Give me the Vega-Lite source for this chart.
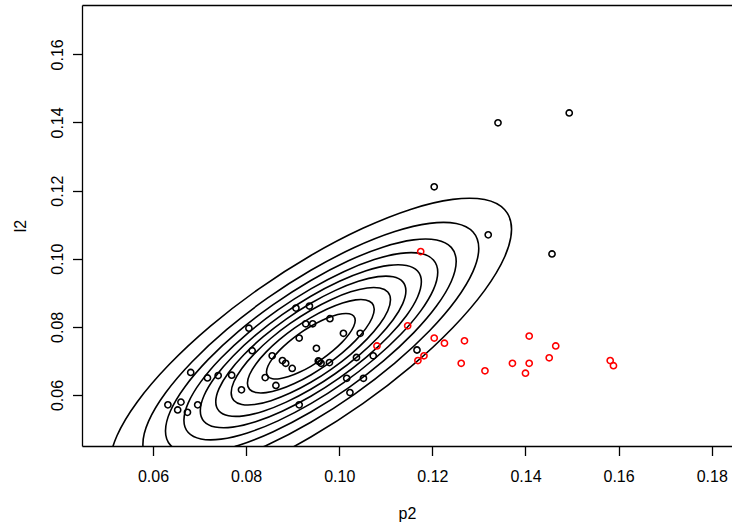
{
  "$schema": "https://vega.github.io/schema/vega-lite/v6.json",
  "width": 650,
  "height": 441,
  "autosize": {"type": "none"},
  "padding": {"left": 82, "top": 5, "right": 0, "bottom": 81},
  "background": "white",
  "config": {
    "view": {"stroke": null},
    "font": "Liberation Sans",
    "axis": {
      "grid": false,
      "domainColor": "#000000",
      "domainWidth": 1.3,
      "tickColor": "#000000",
      "tickWidth": 1.3,
      "tickSize": 9.5,
      "labelFont": "Liberation Sans",
      "labelFontSize": 16,
      "labelColor": "#000000",
      "labelFlush": false,
      "labelOverlap": false,
      "titleFont": "Liberation Sans",
      "titleFontSize": 16,
      "titleFontWeight": "normal",
      "titleColor": "#000000"
    }
  },
  "datasets": {
    "pts": [
      {"p2":0.1494,"l2":0.1428,"grp":"a"},{"p2":0.1341,"l2":0.1399,"grp":"a"},{"p2":0.1204,"l2":0.1211,"grp":"a"},
      {"p2":0.1320,"l2":0.1070,"grp":"a"},{"p2":0.1457,"l2":0.1014,"grp":"a"},{"p2":0.1167,"l2":0.0732,"grp":"a"},
      {"p2":0.0806,"l2":0.0796,"grp":"a"},{"p2":0.0907,"l2":0.0855,"grp":"a"},{"p2":0.0936,"l2":0.0861,"grp":"a"},
      {"p2":0.0980,"l2":0.0824,"grp":"a"},{"p2":0.0928,"l2":0.0809,"grp":"a"},{"p2":0.0943,"l2":0.0809,"grp":"a"},
      {"p2":0.1009,"l2":0.0781,"grp":"a"},{"p2":0.1045,"l2":0.0781,"grp":"a"},{"p2":0.0914,"l2":0.0767,"grp":"a"},
      {"p2":0.0813,"l2":0.0730,"grp":"a"},{"p2":0.0951,"l2":0.0737,"grp":"a"},{"p2":0.0856,"l2":0.0715,"grp":"a"},
      {"p2":0.0878,"l2":0.0701,"grp":"a"},{"p2":0.0885,"l2":0.0693,"grp":"a"},{"p2":0.0899,"l2":0.0678,"grp":"a"},
      {"p2":0.0957,"l2":0.0698,"grp":"a"},{"p2":0.0955,"l2":0.0700,"grp":"a"},{"p2":0.0961,"l2":0.0693,"grp":"a"},
      {"p2":0.0979,"l2":0.0695,"grp":"a"},{"p2":0.1037,"l2":0.0710,"grp":"a"},{"p2":0.1073,"l2":0.0715,"grp":"a"},
      {"p2":0.1016,"l2":0.0649,"grp":"a"},{"p2":0.1052,"l2":0.0649,"grp":"a"},{"p2":0.1023,"l2":0.0607,"grp":"a"},
      {"p2":0.0914,"l2":0.0571,"grp":"a"},{"p2":0.0841,"l2":0.0651,"grp":"a"},{"p2":0.0864,"l2":0.0628,"grp":"a"},
      {"p2":0.0790,"l2":0.0615,"grp":"a"},{"p2":0.0769,"l2":0.0658,"grp":"a"},{"p2":0.0740,"l2":0.0657,"grp":"a"},
      {"p2":0.0717,"l2":0.0650,"grp":"a"},{"p2":0.0681,"l2":0.0666,"grp":"a"},{"p2":0.0696,"l2":0.0571,"grp":"a"},
      {"p2":0.0632,"l2":0.0571,"grp":"a"},{"p2":0.0660,"l2":0.0579,"grp":"a"},{"p2":0.0653,"l2":0.0556,"grp":"a"},
      {"p2":0.0674,"l2":0.0549,"grp":"a"},
      {"p2":0.1175,"l2":0.1021,"grp":"b"},{"p2":0.1147,"l2":0.0803,"grp":"b"},{"p2":0.1081,"l2":0.0744,"grp":"b"},
      {"p2":0.1204,"l2":0.0767,"grp":"b"},{"p2":0.1226,"l2":0.0752,"grp":"b"},{"p2":0.1269,"l2":0.0759,"grp":"b"},
      {"p2":0.1408,"l2":0.0773,"grp":"b"},{"p2":0.1465,"l2":0.0744,"grp":"b"},{"p2":0.1451,"l2":0.0709,"grp":"b"},
      {"p2":0.1182,"l2":0.0715,"grp":"b"},{"p2":0.1169,"l2":0.0701,"grp":"b"},{"p2":0.1262,"l2":0.0693,"grp":"b"},
      {"p2":0.1313,"l2":0.0671,"grp":"b"},{"p2":0.1372,"l2":0.0693,"grp":"b"},{"p2":0.1408,"l2":0.0693,"grp":"b"},
      {"p2":0.1400,"l2":0.0664,"grp":"b"},{"p2":0.1582,"l2":0.0701,"grp":"b"},{"p2":0.1589,"l2":0.0686,"grp":"b"}
    ],
    "cont": [
      {"lev":1,"i":0,"p2":0.13701,"l2":0.10864},{"lev":1,"i":1,"p2":0.13554,"l2":0.11437},{"lev":1,"i":2,"p2":0.13123,"l2":0.11736},
      {"lev":1,"i":3,"p2":0.12438,"l2":0.11742},{"lev":1,"i":4,"p2":0.11546,"l2":0.11455},{"lev":1,"i":5,"p2":0.10506,"l2":0.10893},
      {"lev":1,"i":6,"p2":0.0939,"l2":0.10095},{"lev":1,"i":7,"p2":0.08274,"l2":0.09116},{"lev":1,"i":8,"p2":0.07234,"l2":0.08021},
      {"lev":1,"i":9,"p2":0.06342,"l2":0.06886},{"lev":1,"i":10,"p2":0.05657,"l2":0.05789},{"lev":1,"i":11,"p2":0.05226,"l2":0.04803},
      {"lev":1,"i":12,"p2":0.05079,"l2":0.03996},{"lev":1,"i":13,"p2":0.05226,"l2":0.03423},{"lev":1,"i":14,"p2":0.05657,"l2":0.03124},
      {"lev":1,"i":15,"p2":0.06342,"l2":0.03118},{"lev":1,"i":16,"p2":0.07234,"l2":0.03405},{"lev":1,"i":17,"p2":0.08274,"l2":0.03967},
      {"lev":1,"i":18,"p2":0.0939,"l2":0.04765},{"lev":1,"i":19,"p2":0.10506,"l2":0.05744},{"lev":1,"i":20,"p2":0.11546,"l2":0.06839},
      {"lev":1,"i":21,"p2":0.12438,"l2":0.07974},{"lev":1,"i":22,"p2":0.13123,"l2":0.09071},{"lev":1,"i":23,"p2":0.13554,"l2":0.10057},

      {"lev":2,"i":0,"p2":0.12997,"l2":0.10303},{"lev":2,"i":1,"p2":0.12874,"l2":0.10782},{"lev":2,"i":2,"p2":0.12513,"l2":0.11032},
      {"lev":2,"i":3,"p2":0.11940,"l2":0.11037},{"lev":2,"i":4,"p2":0.11194,"l2":0.10797},{"lev":2,"i":5,"p2":0.10324,"l2":0.10327},
      {"lev":2,"i":6,"p2":0.0939,"l2":0.09660},{"lev":2,"i":7,"p2":0.08456,"l2":0.08841},{"lev":2,"i":8,"p2":0.07586,"l2":0.07924},
      {"lev":2,"i":9,"p2":0.06840,"l2":0.06975},{"lev":2,"i":10,"p2":0.06267,"l2":0.06057},{"lev":2,"i":11,"p2":0.05906,"l2":0.05232},
      {"lev":2,"i":12,"p2":0.05783,"l2":0.04557},{"lev":2,"i":13,"p2":0.05906,"l2":0.04078},{"lev":2,"i":14,"p2":0.06267,"l2":0.03828},
      {"lev":2,"i":15,"p2":0.06840,"l2":0.03823},{"lev":2,"i":16,"p2":0.07586,"l2":0.04063},{"lev":2,"i":17,"p2":0.08456,"l2":0.04533},
      {"lev":2,"i":18,"p2":0.0939,"l2":0.05200},{"lev":2,"i":19,"p2":0.10324,"l2":0.06019},{"lev":2,"i":20,"p2":0.11194,"l2":0.06936},
      {"lev":2,"i":21,"p2":0.11940,"l2":0.07885},{"lev":2,"i":22,"p2":0.12513,"l2":0.08803},{"lev":2,"i":23,"p2":0.12874,"l2":0.09628},

      {"lev":3,"i":0,"p2":0.12512,"l2":0.09917},{"lev":3,"i":1,"p2":0.12406,"l2":0.10332},{"lev":3,"i":2,"p2":0.12093,"l2":0.10548},
      {"lev":3,"i":3,"p2":0.11597,"l2":0.10553},{"lev":3,"i":4,"p2":0.10951,"l2":0.10345},{"lev":3,"i":5,"p2":0.10198,"l2":0.09938},
      {"lev":3,"i":6,"p2":0.0939,"l2":0.09360},{"lev":3,"i":7,"p2":0.08582,"l2":0.08651},{"lev":3,"i":8,"p2":0.07829,"l2":0.07858},
      {"lev":3,"i":9,"p2":0.07183,"l2":0.07036},{"lev":3,"i":10,"p2":0.06687,"l2":0.06242},{"lev":3,"i":11,"p2":0.06374,"l2":0.05528},
      {"lev":3,"i":12,"p2":0.06268,"l2":0.04943},{"lev":3,"i":13,"p2":0.06374,"l2":0.04528},{"lev":3,"i":14,"p2":0.06687,"l2":0.04312},
      {"lev":3,"i":15,"p2":0.07183,"l2":0.04307},{"lev":3,"i":16,"p2":0.07829,"l2":0.04515},{"lev":3,"i":17,"p2":0.08582,"l2":0.04922},
      {"lev":3,"i":18,"p2":0.0939,"l2":0.05500},{"lev":3,"i":19,"p2":0.10198,"l2":0.06209},{"lev":3,"i":20,"p2":0.10951,"l2":0.07002},
      {"lev":3,"i":21,"p2":0.11597,"l2":0.07824},{"lev":3,"i":22,"p2":0.12093,"l2":0.08618},{"lev":3,"i":23,"p2":0.12406,"l2":0.09332},

      {"lev":4,"i":0,"p2":0.12116,"l2":0.09602},{"lev":4,"i":1,"p2":0.12023,"l2":0.09964},{"lev":4,"i":2,"p2":0.11751,"l2":0.10153},
      {"lev":4,"i":3,"p2":0.11318,"l2":0.10157},{"lev":4,"i":4,"p2":0.10753,"l2":0.09975},{"lev":4,"i":5,"p2":0.10096,"l2":0.09620},
      {"lev":4,"i":6,"p2":0.0939,"l2":0.09115},{"lev":4,"i":7,"p2":0.08684,"l2":0.08496},{"lev":4,"i":8,"p2":0.08027,"l2":0.07804},
      {"lev":4,"i":9,"p2":0.07462,"l2":0.07086},{"lev":4,"i":10,"p2":0.07029,"l2":0.06392},{"lev":4,"i":11,"p2":0.06757,"l2":0.05769},
      {"lev":4,"i":12,"p2":0.06664,"l2":0.05258},{"lev":4,"i":13,"p2":0.06757,"l2":0.04896},{"lev":4,"i":14,"p2":0.07029,"l2":0.04707},
      {"lev":4,"i":15,"p2":0.07462,"l2":0.04703},{"lev":4,"i":16,"p2":0.08027,"l2":0.04885},{"lev":4,"i":17,"p2":0.08684,"l2":0.05240},
      {"lev":4,"i":18,"p2":0.0939,"l2":0.05745},{"lev":4,"i":19,"p2":0.10096,"l2":0.06364},{"lev":4,"i":20,"p2":0.10753,"l2":0.07056},
      {"lev":4,"i":21,"p2":0.11318,"l2":0.07774},{"lev":4,"i":22,"p2":0.11751,"l2":0.08468},{"lev":4,"i":23,"p2":0.12023,"l2":0.09091},

      {"lev":5,"i":0,"p2":0.11764,"l2":0.09321},{"lev":5,"i":1,"p2":0.11683,"l2":0.09637},{"lev":5,"i":2,"p2":0.11446,"l2":0.09801},
      {"lev":5,"i":3,"p2":0.11069,"l2":0.09805},{"lev":5,"i":4,"p2":0.10577,"l2":0.09647},{"lev":5,"i":5,"p2":0.10005,"l2":0.09337},
      {"lev":5,"i":6,"p2":0.0939,"l2":0.08898},{"lev":5,"i":7,"p2":0.08775,"l2":0.08358},{"lev":5,"i":8,"p2":0.08203,"l2":0.07755},
      {"lev":5,"i":9,"p2":0.07711,"l2":0.07130},{"lev":5,"i":10,"p2":0.07334,"l2":0.06526},{"lev":5,"i":11,"p2":0.07097,"l2":0.05983},
      {"lev":5,"i":12,"p2":0.07016,"l2":0.05539},{"lev":5,"i":13,"p2":0.07097,"l2":0.05223},{"lev":5,"i":14,"p2":0.07334,"l2":0.05059},
      {"lev":5,"i":15,"p2":0.07711,"l2":0.05055},{"lev":5,"i":16,"p2":0.08203,"l2":0.05213},{"lev":5,"i":17,"p2":0.08775,"l2":0.05523},
      {"lev":5,"i":18,"p2":0.0939,"l2":0.05962},{"lev":5,"i":19,"p2":0.10005,"l2":0.06502},{"lev":5,"i":20,"p2":0.10577,"l2":0.07105},
      {"lev":5,"i":21,"p2":0.11069,"l2":0.07730},{"lev":5,"i":22,"p2":0.11446,"l2":0.08334},{"lev":5,"i":23,"p2":0.11683,"l2":0.08877},

      {"lev":6,"i":0,"p2":0.11432,"l2":0.09057},{"lev":6,"i":1,"p2":0.11362,"l2":0.09328},{"lev":6,"i":2,"p2":0.11158,"l2":0.09470},
      {"lev":6,"i":3,"p2":0.10834,"l2":0.09473},{"lev":6,"i":4,"p2":0.10411,"l2":0.09337},{"lev":6,"i":5,"p2":0.09919,"l2":0.09070},
      {"lev":6,"i":6,"p2":0.0939,"l2":0.08692},{"lev":6,"i":7,"p2":0.08861,"l2":0.08229},{"lev":6,"i":8,"p2":0.08369,"l2":0.07710},
      {"lev":6,"i":9,"p2":0.07946,"l2":0.07172},{"lev":6,"i":10,"p2":0.07622,"l2":0.06653},{"lev":6,"i":11,"p2":0.07418,"l2":0.06186},
      {"lev":6,"i":12,"p2":0.07348,"l2":0.05803},{"lev":6,"i":13,"p2":0.07418,"l2":0.05532},{"lev":6,"i":14,"p2":0.07622,"l2":0.05390},
      {"lev":6,"i":15,"p2":0.07946,"l2":0.05387},{"lev":6,"i":16,"p2":0.08369,"l2":0.05523},{"lev":6,"i":17,"p2":0.08861,"l2":0.05790},
      {"lev":6,"i":18,"p2":0.0939,"l2":0.06168},{"lev":6,"i":19,"p2":0.09919,"l2":0.06631},{"lev":6,"i":20,"p2":0.10411,"l2":0.07150},
      {"lev":6,"i":21,"p2":0.10834,"l2":0.07688},{"lev":6,"i":22,"p2":0.11158,"l2":0.08207},{"lev":6,"i":23,"p2":0.11362,"l2":0.08674},

      {"lev":7,"i":0,"p2":0.11101,"l2":0.08793},{"lev":7,"i":1,"p2":0.11043,"l2":0.09021},{"lev":7,"i":2,"p2":0.10872,"l2":0.09139},
      {"lev":7,"i":3,"p2":0.10600,"l2":0.09142},{"lev":7,"i":4,"p2":0.10246,"l2":0.09028},{"lev":7,"i":5,"p2":0.09833,"l2":0.08805},
      {"lev":7,"i":6,"p2":0.0939,"l2":0.08488},{"lev":7,"i":7,"p2":0.08947,"l2":0.08099},{"lev":7,"i":8,"p2":0.08534,"l2":0.07665},
      {"lev":7,"i":9,"p2":0.08180,"l2":0.07214},{"lev":7,"i":10,"p2":0.07908,"l2":0.06779},{"lev":7,"i":11,"p2":0.07737,"l2":0.06387},
      {"lev":7,"i":12,"p2":0.07679,"l2":0.06067},{"lev":7,"i":13,"p2":0.07737,"l2":0.05839},{"lev":7,"i":14,"p2":0.07908,"l2":0.05721},
      {"lev":7,"i":15,"p2":0.08180,"l2":0.05718},{"lev":7,"i":16,"p2":0.08534,"l2":0.05832},{"lev":7,"i":17,"p2":0.08947,"l2":0.06055},
      {"lev":7,"i":18,"p2":0.0939,"l2":0.06372},{"lev":7,"i":19,"p2":0.09833,"l2":0.06761},{"lev":7,"i":20,"p2":0.10246,"l2":0.07195},
      {"lev":7,"i":21,"p2":0.10600,"l2":0.07646},{"lev":7,"i":22,"p2":0.10872,"l2":0.08081},{"lev":7,"i":23,"p2":0.11043,"l2":0.08473},

      {"lev":8,"i":0,"p2":0.10752,"l2":0.08515},{"lev":8,"i":1,"p2":0.10705,"l2":0.08696},{"lev":8,"i":2,"p2":0.10569,"l2":0.08790},
      {"lev":8,"i":3,"p2":0.10353,"l2":0.08792},{"lev":8,"i":4,"p2":0.10071,"l2":0.08702},{"lev":8,"i":5,"p2":0.09743,"l2":0.08524},
      {"lev":8,"i":6,"p2":0.0939,"l2":0.08272},{"lev":8,"i":7,"p2":0.09037,"l2":0.07963},{"lev":8,"i":8,"p2":0.08709,"l2":0.07617},
      {"lev":8,"i":9,"p2":0.08427,"l2":0.07258},{"lev":8,"i":10,"p2":0.08211,"l2":0.06912},{"lev":8,"i":11,"p2":0.08075,"l2":0.06600},
      {"lev":8,"i":12,"p2":0.08028,"l2":0.06345},{"lev":8,"i":13,"p2":0.08075,"l2":0.06164},{"lev":8,"i":14,"p2":0.08211,"l2":0.06070},
      {"lev":8,"i":15,"p2":0.08427,"l2":0.06068},{"lev":8,"i":16,"p2":0.08709,"l2":0.06158},{"lev":8,"i":17,"p2":0.09037,"l2":0.06336},
      {"lev":8,"i":18,"p2":0.0939,"l2":0.06588},{"lev":8,"i":19,"p2":0.09743,"l2":0.06897},{"lev":8,"i":20,"p2":0.10071,"l2":0.07243},
      {"lev":8,"i":21,"p2":0.10353,"l2":0.07602},{"lev":8,"i":22,"p2":0.10569,"l2":0.07948},{"lev":8,"i":23,"p2":0.10705,"l2":0.08260},

      {"lev":9,"i":0,"p2":0.10343,"l2":0.08189},{"lev":9,"i":1,"p2":0.10310,"l2":0.08316},{"lev":9,"i":2,"p2":0.10215,"l2":0.08382},
      {"lev":9,"i":3,"p2":0.10064,"l2":0.08383},{"lev":9,"i":4,"p2":0.09866,"l2":0.08320},{"lev":9,"i":5,"p2":0.09637,"l2":0.08195},
      {"lev":9,"i":6,"p2":0.0939,"l2":0.08019},{"lev":9,"i":7,"p2":0.09143,"l2":0.07803},{"lev":9,"i":8,"p2":0.08914,"l2":0.07561},
      {"lev":9,"i":9,"p2":0.08716,"l2":0.07310},{"lev":9,"i":10,"p2":0.08565,"l2":0.07067},{"lev":9,"i":11,"p2":0.08470,"l2":0.06849},
      {"lev":9,"i":12,"p2":0.08437,"l2":0.06671},{"lev":9,"i":13,"p2":0.08470,"l2":0.06544},{"lev":9,"i":14,"p2":0.08565,"l2":0.06478},
      {"lev":9,"i":15,"p2":0.08716,"l2":0.06477},{"lev":9,"i":16,"p2":0.08914,"l2":0.06540},{"lev":9,"i":17,"p2":0.09143,"l2":0.06665},
      {"lev":9,"i":18,"p2":0.0939,"l2":0.06841},{"lev":9,"i":19,"p2":0.09637,"l2":0.07057},{"lev":9,"i":20,"p2":0.09866,"l2":0.07299},
      {"lev":9,"i":21,"p2":0.10064,"l2":0.07550},{"lev":9,"i":22,"p2":0.10215,"l2":0.07793},{"lev":9,"i":23,"p2":0.10310,"l2":0.08011}
    ]
  },
  "resolve": {"axis": {"x": "independent"}},
  "layer": [
    {
      "data": {"name": "cont"},
      "mark": {"type": "line", "interpolate": "cardinal-closed", "clip": true, "color": "#000000", "strokeWidth": 1.6},
      "encoding": {
        "x": {
          "field": "p2", "type": "quantitative",
          "scale": {"domain": [0.04475, 0.18436], "nice": false, "zero": false},
          "axis": {
            "orient": "bottom",
            "values": [0.06, 0.08, 0.10, 0.12, 0.14, 0.16, 0.18],
            "format": ".2f",
            "labelPadding": 13,
            "title": "p2",
            "titleY": 72.3,
            "titleBaseline": "alphabetic"
          }
        },
        "y": {
          "field": "l2", "type": "quantitative",
          "scale": {"domain": [0.04502, 0.17448], "nice": false, "zero": false},
          "axis": {
            "orient": "left",
            "values": [0.06, 0.08, 0.10, 0.12, 0.14, 0.16],
            "format": ".2f",
            "labelAngle": -90,
            "labelAlign": "center",
            "labelBaseline": "bottom",
            "labelPadding": 7,
            "title": "l2",
            "titleAngle": -90,
            "titleX": -57,
            "titleY": 220.5,
            "titleAlign": "center",
            "titleBaseline": "alphabetic"
          }
        },
        "detail": {"field": "lev", "type": "nominal"},
        "order": {"field": "i", "type": "quantitative"}
      }
    },
    {
      "data": {"name": "pts"},
      "mark": {"type": "point", "shape": "circle", "filled": false, "size": 38, "strokeWidth": 1.6, "opacity": 1, "clip": true},
      "encoding": {
        "x": {
          "field": "p2", "type": "quantitative",
          "axis": {"orient": "top", "labels": false, "ticks": false, "title": null, "grid": false}
        },
        "y": {"field": "l2", "type": "quantitative"},
        "color": {
          "field": "grp", "type": "nominal",
          "scale": {"domain": ["a", "b"], "range": ["#000000", "#ff0000"]},
          "legend": null
        }
      }
    }
  ]
}
